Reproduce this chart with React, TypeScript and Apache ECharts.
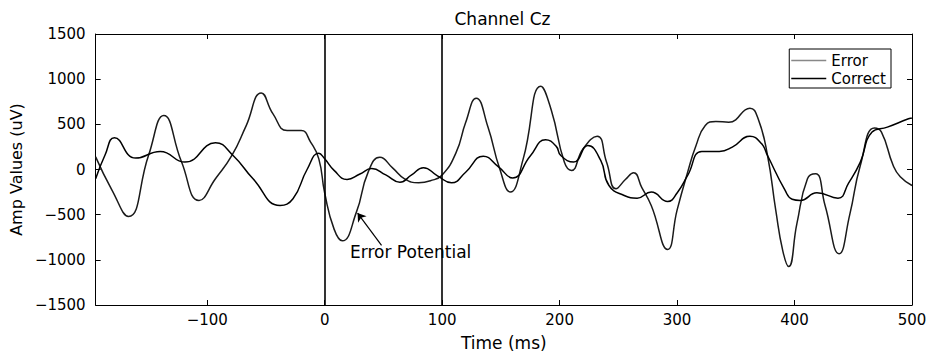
import React, { useEffect, useRef } from "react";
import * as echarts from "echarts";

// Time axis (ms) and amplitude (uV) readings
const errorTime = [-195, -181, -167, -150, -137, -122, -107, -93, -79, -67, -54, -44, -32, -20, -12, -5, 0, 8, 15, 27, 37, 47, 58, 68, 80, 90, 100, 112, 120, 129, 139, 149, 158, 169, 184, 193, 204, 210, 220, 232, 240, 248, 256, 263, 270, 278, 292, 300, 309, 316, 324, 333, 344, 362, 369, 377, 384, 390, 395, 402, 411, 418, 426, 438, 447, 456, 468, 474, 484, 490, 500];
const errorAmp = [140, -230, -520, 155, 597, 88, -343, -103, 155, 480, 848, 616, 431, 431, 303, 118, -260, -660, -790, -472, -29, 135, 15, -103, -147, -125, -60, 192, 520, 790, 470, 8, -250, 118, 922, 653, 82, -10, 230, 369, 80, -213, -110, -37, -200, -398, -885, -450, -29, 260, 487, 531, 524, 679, 561, 155, -450, -900, -1075, -600, -103, -48, -398, -933, -500, 44, 460, 414, 44, -80, -177];

const correctTime = [-195, -187, -179, -161, -140, -119, -93, -78, -61, -38, -27, -15, -5, 0, 8, 19, 30, 40, 52, 64, 74, 84, 96, 108, 120, 135, 148, 160, 175, 188, 197, 201, 212, 224, 235, 242, 255, 266, 278, 292, 300, 309, 321, 336, 347, 362, 372, 377, 392, 398, 405, 419, 437, 446, 456, 466, 479, 497, 500];
const correctAmp = [-103, 160, 351, 126, 199, 82, 295, 155, -103, -398, -324, 0, 181, 118, -10, -110, -50, 10, -60, -140, -60, 20, -70, -147, -30, 148, 30, -95, 150, 329, 259, 155, 82, 265, 100, -177, -288, -317, -250, -354, -260, -66, 199, 200, 248, 369, 284, 155, -232, -330, -343, -258, -317, -150, 82, 414, 469, 561, 569];

const xTicks = [-100, 0, 100, 200, 300, 400, 500];
const markerTimes = [0, 100];
const seriesNames = ["Error", "Correct"];

const FONT = "DejaVu Sans";

const fmt = (v: number) => String(v).replace("-", "\u2212");

export default function App() {
  const ref = useRef<HTMLDivElement>(null);

  useEffect(() => {
    if (!ref.current) return;
    const chart = echarts.init(ref.current, undefined, { renderer: "svg" });

    const errorData = errorTime.map((t, i) => [t, errorAmp[i]]);
    const correctData = correctTime.map((t, i) => [t, correctAmp[i]]);

    const axisCommon = {
      axisLine: { show: true, onZero: false, lineStyle: { color: "#000", width: 1 } },
      splitLine: { show: false },
    };

    chart.setOption({
      animation: false,
      backgroundColor: "#fff",
      grid: { left: 93, right: 21, top: 34, bottom: 50 },
      legend: {
        orient: "vertical",
        right: 42,
        top: 49,
        padding: [4, 5, 2, 2],
        itemGap: 3,
        itemWidth: 35,
        itemHeight: 1.3,
        icon: "rect",
        borderColor: "#000",
        borderWidth: 1,
        backgroundColor: "#fff",
        borderRadius: 0,
        textStyle: { fontSize: 15, fontFamily: FONT, color: "#000" },
        data: [
          { name: seriesNames[0], icon: "rect", itemStyle: { color: "#888" } },
          { name: seriesNames[1], icon: "rect", itemStyle: { color: "#000" } },
        ],
      },
      xAxis: [
        {
          type: "value",
          min: -195,
          max: 500,
          ...axisCommon,
          axisTick: { show: true, inside: true, length: 5, customValues: xTicks, lineStyle: { color: "#000" } },
          axisLabel: {
            customValues: xTicks,
            formatter: (v: number) => fmt(v),
            color: "#000",
            fontSize: 15,
            fontFamily: FONT,
            margin: 7,
          },
          name: "Time (ms)",
          nameLocation: "middle",
          nameGap: 29,
          nameTextStyle: { fontSize: 17, fontFamily: FONT, color: "#000" },
        },
        {
          type: "value",
          position: "top",
          min: -195,
          max: 500,
          ...axisCommon,
          axisTick: { show: true, inside: true, length: 5, customValues: xTicks, lineStyle: { color: "#000" } },
          axisLabel: { show: false },
        },
      ],
      yAxis: [
        {
          type: "value",
          min: -1500,
          max: 1500,
          interval: 500,
          ...axisCommon,
          axisTick: { show: true, inside: true, length: 5, lineStyle: { color: "#000" } },
          axisLabel: {
            formatter: (v: number) => fmt(v),
            color: "#000",
            fontSize: 15,
            fontFamily: FONT,
            margin: 10,
          },
          name: "Amp Values (uV)",
          nameLocation: "middle",
          nameGap: 61,
          nameTextStyle: { fontSize: 16, fontFamily: FONT, color: "#000" },
        },
        {
          type: "value",
          position: "right",
          min: -1500,
          max: 1500,
          interval: 500,
          ...axisCommon,
          axisTick: { show: true, inside: true, length: 5, lineStyle: { color: "#000" } },
          axisLabel: { show: false },
        },
      ],
      series: [
        {
          name: seriesNames[0],
          type: "line",
          data: errorData,
          smooth: 0.5,
          symbol: "none",
          showSymbol: false,
          lineStyle: { color: "#1a1a1a", width: 1.5 },
          itemStyle: { color: "#1a1a1a" },
          markLine: {
            silent: true,
            symbol: ["none", "none"],
            label: { show: false },
            lineStyle: { color: "#000", width: 1.6, type: "solid" },
            data: markerTimes.map((t) => ({ xAxis: t })),
          },
          z: 3,
        },
        {
          name: seriesNames[1],
          type: "line",
          data: correctData,
          smooth: 0.5,
          symbol: "none",
          showSymbol: false,
          lineStyle: { color: "#000", width: 1.5 },
          itemStyle: { color: "#000" },
          markLine: {
            silent: true,
            symbolSize: 8,
            label: { show: false },
            lineStyle: { color: "#000", width: 1.2, type: "solid" },
            data: [
              [
                { coord: [48.4, -841], symbol: "none" },
                { coord: [28, -482], symbol: "arrow" },
              ],
            ],
          },
          z: 3,
        },
      ],
      graphic: [
        {
          type: "text",
          x: 502.5,
          y: 19,
          style: {
            text: "Channel Cz",
            align: "center",
            verticalAlign: "middle",
            fontSize: 17,
            fontFamily: FONT,
            fill: "#000",
          },
        },
        {
          type: "text",
          x: 350,
          y: 252,
          style: {
            text: "Error Potential",
            align: "left",
            verticalAlign: "middle",
            fontSize: 17,
            fontFamily: FONT,
            fill: "#000",
          },
        },
      ],
    });

    return () => chart.dispose();
  }, []);

  return (
    <div
      ref={ref}
      style={{ position: "fixed", left: 0, top: 0, width: 933, height: 356, background: "#fff" }}
    />
  );
}
